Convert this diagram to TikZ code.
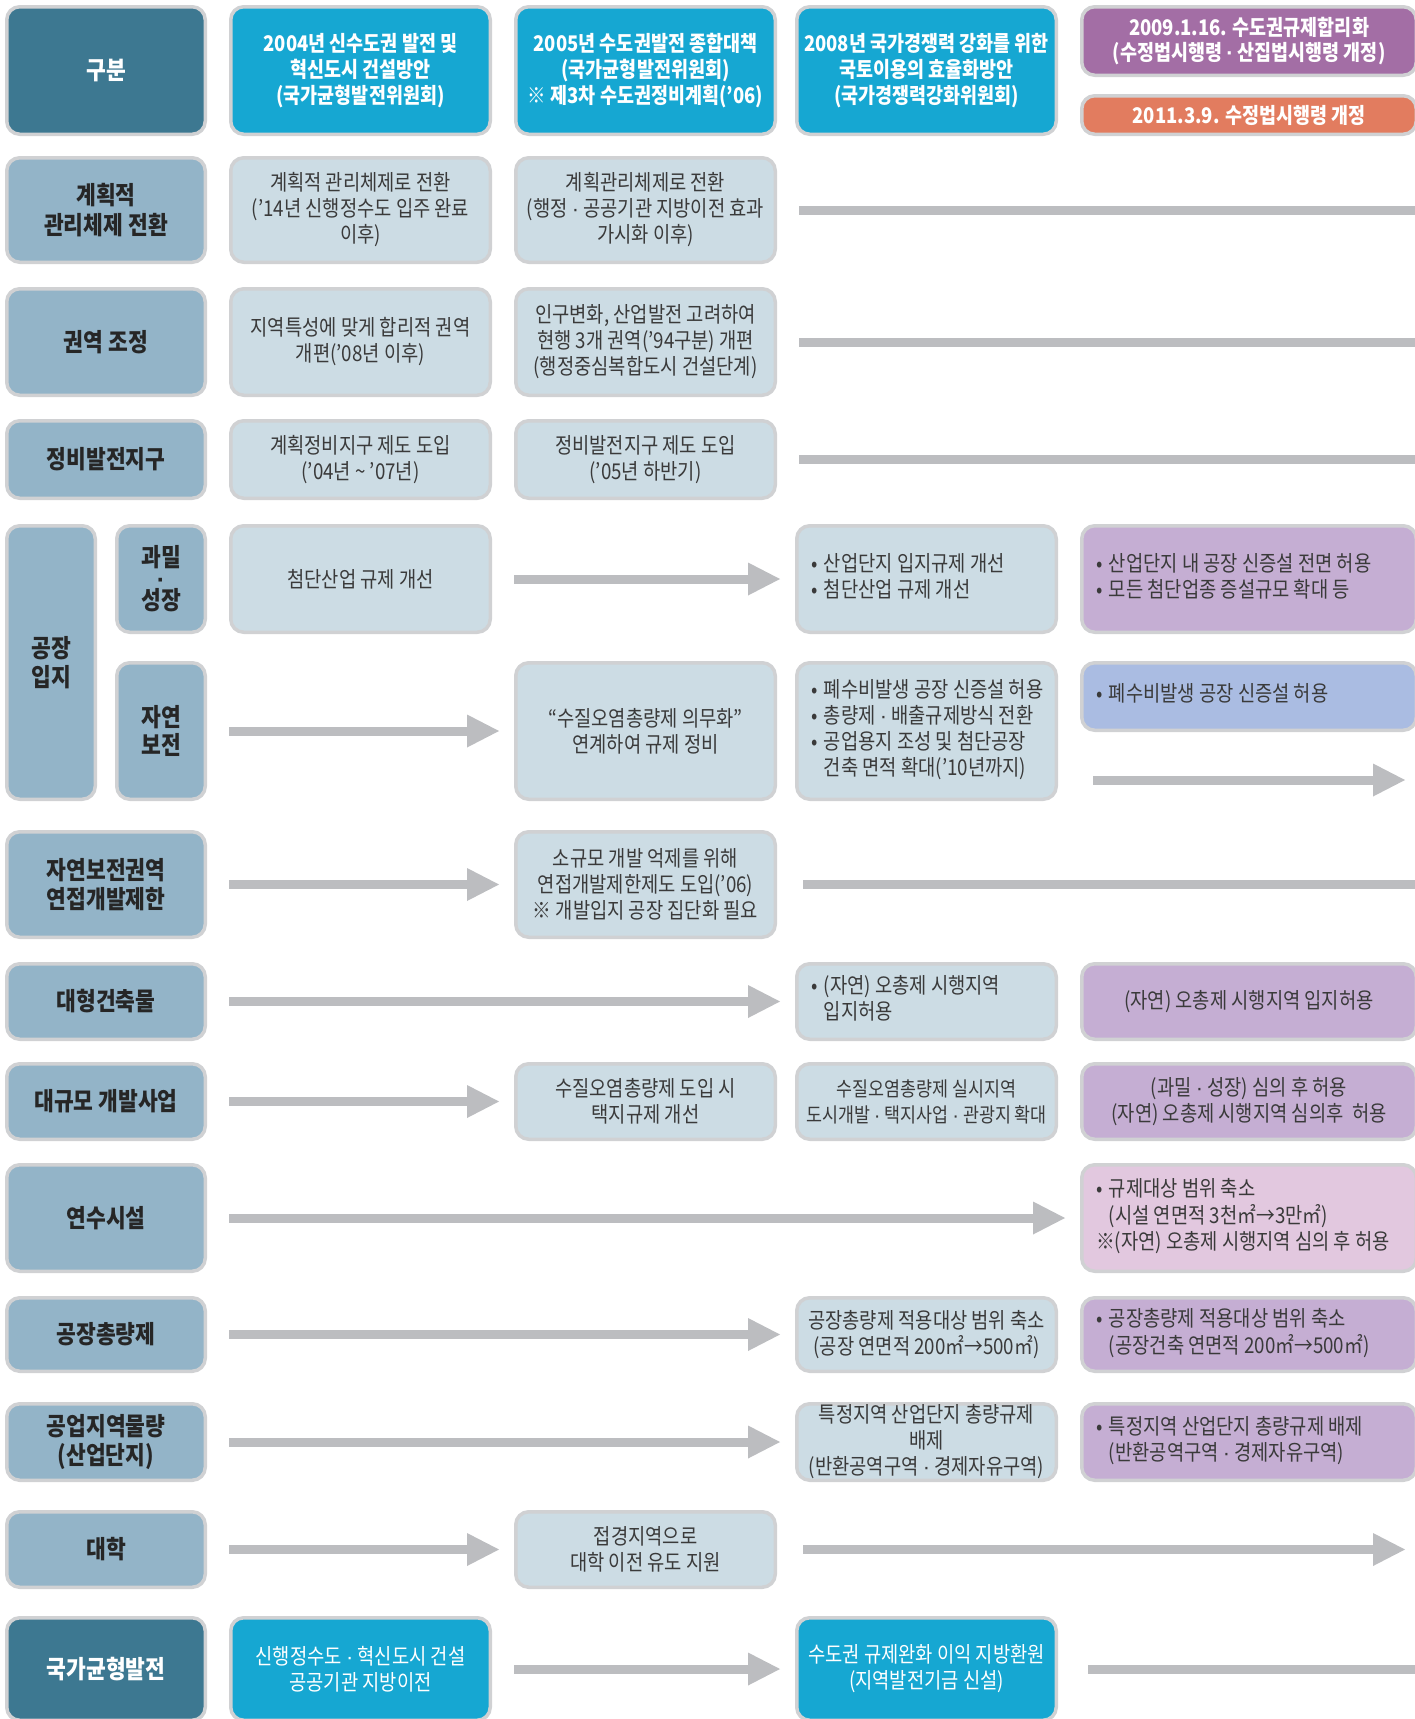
\documentclass[tikz,border=0pt]{standalone}
\usepackage{fontspec}
\setmainfont{Noto Sans CJK KR}[FakeStretch=0.86]
\newfontfamily\dotf{Liberation Sans}
\usetikzlibrary{arrows.meta}
\definecolor{dteal}{HTML}{3D7891}
\definecolor{cyanh}{HTML}{16A7D2}
\definecolor{lab}{HTML}{93B4C8}
\definecolor{cont}{HTML}{CCDCE4}
\definecolor{purh}{HTML}{A36EA5}
\definecolor{orng}{HTML}{E27C5F}
\definecolor{purc}{HTML}{C5AED3}
\definecolor{bluc}{HTML}{AABCE2}
\definecolor{pinkc}{HTML}{E2C8DF}
\definecolor{bord}{HTML}{D0D1D3}
\definecolor{arr}{HTML}{BCBDC0}
\definecolor{txt}{HTML}{3A3A3A}
\definecolor{labt}{HTML}{262626}
\newcommand\md{{\dotf ·}}
\newcommand\bul{•\hspace{0.3em}}
\newcommand\hind{\phantom{•\hspace{0.3em}}}
\newcommand\ltab[1]{\begin{tabular}{@{}l@{}}#1\end{tabular}}
\newcommand\bx[7][]{%
  \pgfmathsetmacro\bxW{#5-#3-3.5}\pgfmathsetmacro\bxH{#6-#4-3.5}%
  \pgfmathsetmacro\bxX{(#3+#5)/2}\pgfmathsetmacro\bxY{(#4+#6)/2}%
  \node[box,#1,minimum width=\bxW pt,minimum height=\bxH pt] (#2) at (\bxX,\bxY) {#7};}
\newcommand\bxl[7][]{%
  \pgfmathsetmacro\bxW{#5-#3-3.5}\pgfmathsetmacro\bxH{#6-#4-3.5}%
  \pgfmathsetmacro\bxX{(#3+#5)/2}\pgfmathsetmacro\bxY{(#4+#6)/2}%
  \pgfmathsetmacro\bxT{#5-#3-32}%
  \node[box,#1,minimum width=\bxW pt,minimum height=\bxH pt] (#2) at (\bxX,\bxY) {\makebox[\bxT pt][l]{\ltab{#7}}};}
\tikzset{
  box/.style={draw=bord, line width=3.5pt, rounded corners=13pt, inner sep=0pt,
    align=center, text=txt, fill=cont, font=\fontsize{21.8}{26}\selectfont},
  lbl/.style={fill=lab, text=labt, font=\fontsize{25}{29.5}\selectfont\bfseries},
  hdr/.style={fill=cyanh, text=white, font=\fontsize{21.5}{25.8}\selectfont\bfseries},
  dk/.style={fill=dteal, text=white, font=\fontsize{25}{29}\selectfont\bfseries},
  arw/.style={draw=arr, line width=9pt, -{Triangle[length=32pt,width=33pt,line width=0pt]},
    shorten <=22pt, shorten >=15pt},
  ln/.style={draw=arr, line width=9pt, shorten <=22pt},
}
\begin{document}
\begin{tikzpicture}[x=1pt,y=-1pt]
\useasboundingbox[fill=white] (0,0) rectangle (1414,1719);
% header
\bx[dk]{h0}{5}{5}{207}{136}{구분}
\bx[hdr]{h1}{229}{5}{492}{136}{2004년 신수도권 발전 및\\혁신도시 건설방안\\(국가균형발전위원회)}
\bx[hdr]{h2}{514}{5}{777}{136}{2005년 수도권발전 종합대책\\(국가균형발전위원회)\\※ 제3차 수도권정비계획(’06)}
\bx[hdr]{h3}{795}{5}{1058}{136}{2008년 국가경쟁력 강화를 위한\\국토이용의 효율화방안\\(국가경쟁력강화위원회)}
\bx[hdr,fill=purh]{h4}{1080}{5}{1418}{77}{2009.1.16. 수도권규제합리화\\(수정법시행령 \md{} 산집법시행령 개정)}
\bx[hdr,fill=orng]{h5}{1080}{94}{1418}{136}{2011.3.9. 수정법시행령 개정}
% row 1
\bx[lbl]{l1}{5}{156}{207}{264}{계획적\\관리체제 전환}
\bx{r1a}{229}{156}{492}{264}{계획적 관리체제로 전환\\(’14년 신행정수도 입주 완료\\이후)}
\bx{r1b}{514}{156}{777}{264}{계획관리체제로 전환\\(행정 \md{} 공공기관 지방이전 효과\\가시화 이후)}
% row 2
\bx[lbl]{l2}{5}{287}{207}{397}{권역 조정}
\bx{r2a}{229}{287}{492}{397}{지역특성에 맞게 합리적 권역\\개편(’08년 이후)}
\bx{r2b}{514}{287}{777}{397}{인구변화, 산업발전 고려하여\\현행 3개 권역(’94구분) 개편\\(행정중심복합도시 건설단계)}
% row 3
\bx[lbl]{l3}{5}{419}{207}{500}{정비발전지구}
\bx{r3a}{229}{419}{492}{500}{계획정비지구 제도 도입\\(’04년 \textasciitilde\ ’07년)}
\bx{r3b}{514}{419}{777}{500}{정비발전지구 제도 도입\\(’05년 하반기)}
% row 4
\bx[lbl]{l4}{5}{524}{97}{801}{공장\\입지}
\bx[lbl,font=\fontsize{25}{21.5}\selectfont\bfseries]{l4a}{115}{524}{207}{634}{과밀\\\md\\성장}
\bx[lbl,font=\fontsize{25}{27.5}\selectfont\bfseries]{l4b}{115}{661}{207}{801}{자연\\보전}
\bx{r4a1}{229}{524}{492}{634}{첨단산업 규제 개선}
\bxl{r4a3}{795}{524}{1058}{634}{\bul 산업단지 입지규제 개선\\\bul 첨단산업 규제 개선}
\bxl[fill=purc]{r4a4}{1080}{524}{1418}{634}{\bul 산업단지 내 공장 신증설 전면 허용\\\bul 모든 첨단업종 증설규모 확대 등}
\bx{r4b2}{514}{661}{777}{801}{“수질오염총량제 의무화”\\연계하여 규제 정비}
\bxl{r4b3}{795}{661}{1058}{801}{\bul 폐수비발생 공장 신증설 허용\\\bul 총량제 \md{} 배출규제방식 전환\\\bul 공업용지 조성 및 첨단공장\\\hind 건축 면적 확대(’10년까지)}
\bxl[fill=bluc]{r4b4}{1080}{661}{1418}{732}{\bul 폐수비발생 공장 신증설 허용}
% row 5
\bx[lbl]{l5}{5}{830}{207}{939}{자연보전권역\\연접개발제한}
\bx{r5b}{514}{830}{777}{939}{소규모 개발 억제를 위해\\연접개발제한제도 도입(’06)\\※ 개발입지 공장 집단화 필요}
% row 6
\bx[lbl]{l6}{5}{962}{207}{1041}{대형건축물}
\bxl{r6c}{795}{962}{1058}{1041}{\bul (자연) 오총제 시행지역\\\hind 입지허용}
\bx[fill=purc]{r6d}{1080}{962}{1418}{1041}{(자연) 오총제 시행지역 입지허용}
% row 7
\bx[lbl]{l7}{5}{1062}{207}{1141}{대규모 개발사업}
\bx{r7b}{514}{1062}{777}{1141}{수질오염총량제 도입 시\\택지규제 개선}
\bx[font=\fontsize{20.2}{26}\selectfont]{r7c}{795}{1062}{1058}{1141}{수질오염총량제 실시지역\\도시개발 \md{} 택지사업 \md{} 관광지 확대}
\bx[fill=purc]{r7d}{1080}{1062}{1418}{1141}{(과밀 \md{} 성장) 심의 후 허용\\(자연) 오총제 시행지역 심의후\ \ 허용}
% row 8
\bx[lbl]{l8}{5}{1163}{207}{1273}{연수시설}
\bxl[fill=pinkc]{r8d}{1080}{1163}{1418}{1273}{\bul 규제대상 범위 축소\\\hind (시설 연면적 3천㎡→3만㎡)\\※(자연) 오총제 시행지역 심의 후 허용}
% row 9
\bx[lbl]{l9}{5}{1296}{207}{1373}{공장총량제}
\bx{r9c}{795}{1296}{1058}{1373}{공장총량제 적용대상 범위 축소\\(공장 연면적 200㎡→500㎡)}
\bxl[fill=purc]{r9d}{1080}{1296}{1418}{1373}{\bul 공장총량제 적용대상 범위 축소\\\hind(공장건축 연면적 200㎡→500㎡)}
% row 10
\bx[lbl]{l10}{5}{1402}{207}{1482}{공업지역물량\\(산업단지)}
\bx{r10c}{795}{1402}{1058}{1482}{특정지역 산업단지 총량규제\\배제\\(반환공역구역 \md{} 경제자유구역)}
\bxl[fill=purc]{r10d}{1080}{1402}{1418}{1482}{\bul 특정지역 산업단지 총량규제 배제\\\hind(반환공역구역 \md{} 경제자유구역)}
% row 11
\bx[lbl]{l11}{5}{1510}{207}{1589}{대학}
\bx{r11b}{514}{1510}{777}{1589}{접경지역으로\\대학 이전 유도 지원}
% row 12
\bx[dk]{l12}{5}{1616}{207}{1722}{국가균형발전}
\bx[fill=cyanh,text=white]{r12a}{229}{1616}{492}{1722}{신행정수도 \md{} 혁신도시 건설\\공공기관 지방이전}
\bx[fill=cyanh,text=white]{r12c}{795}{1616}{1058}{1722}{수도권 규제완화 이익 지방환원\\(지역발전기금 신설)}
% connectors
\coordinate (E) at (1420,0);
\coordinate (p1) at (1093,780);
\coordinate (p2) at (1405,780);
\coordinate (q2) at (1405,1549.5);
\draw[ln] (r1b.east) -- (r1b.east -| E);
\draw[ln] (r2b.east) -- (r2b.east -| E);
\draw[ln] (r3b.east) -- (r3b.east -| E);
\draw[arw] (r4a1) -- (r4a3);
\draw[arw] (l4b) -- (r4b2);
\draw[arw,shorten <=0pt,shorten >=0pt] (p1) -- (p2);
\draw[arw] (l5) -- (r5b);
\draw[ln,shorten <=26pt] (r5b.east) -- (r5b.east -| E);
\draw[arw] (l6) -- (r6c);
\draw[arw] (l7) -- (r7b);
\draw[arw] (l8) -- (r8d);
\draw[arw] (l9) -- (r9c);
\draw[arw] (l10) -- (r10c);
\draw[arw] (l11) -- (r11b);
\draw[arw,shorten <=26pt,shorten >=0pt] (r11b.east) -- (q2);
\draw[arw] (r12a) -- (r12c);
\draw[ln,shorten <=30pt] (r12c.east) -- (r12c.east -| E);
\end{tikzpicture}
\end{document}
